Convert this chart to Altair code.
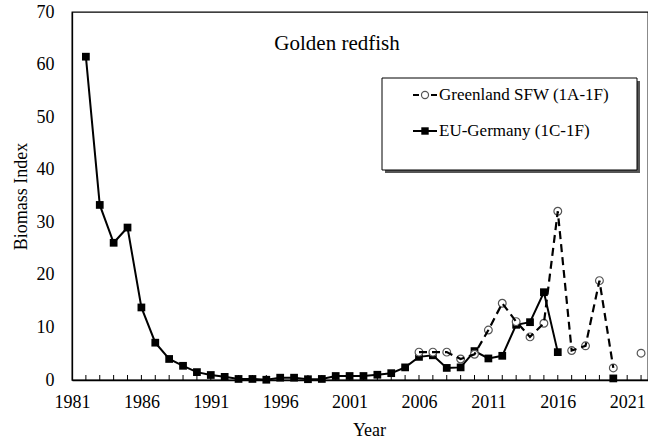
import altair as alt
import pandas as pd

# Survey biomass index series
eu_years = list(range(1982, 2017)) + [2020]
eu_values = [61.5, 33.3, 26.1, 29.0, 13.8, 7.1, 4.0, 2.7, 1.5, 0.95,
             0.6, 0.2, 0.2, 0.05, 0.44, 0.44, 0.15, 0.2, 0.76, 0.76,
             0.76, 1.0, 1.3, 2.4, 4.4, 4.7, 2.3, 2.4, 5.5, 4.1,
             4.6, 10.5, 11.0, 16.7, 5.3, 0.3]

gl_years = list(range(2006, 2021)) + [2022]
gl_values = [5.3, 5.3, 5.3, 4.0, 4.9, 9.5, 14.6, 11.1, 8.2, 10.8,
             32.1, 5.6, 6.5, 18.9, 2.3, 5.1]

x_label_years = list(range(1981, 2022, 5))
y_ticks = list(range(0, 71, 10))
tick_years = list(range(1982, 2023))

FONT = "Liberation Serif"
W, H = 576, 368


def frame(years, values):
    """Rows with a segment id that changes wherever a year is skipped."""
    rows, seg, prev = [], 0, None
    for yr, v in zip(years, values):
        if prev is not None and yr - prev > 1:
            seg += 1
        rows.append({"year": yr, "value": v, "seg": seg})
        prev = yr
    df = pd.DataFrame(rows)
    counts = df.groupby("seg")["year"].transform("count")
    return df, df[counts > 1]


eu_pts, eu_line = frame(eu_years, eu_values)
gl_pts, gl_line = frame(gl_years, gl_values)

xs = alt.Scale(domain=[1981, 2022.5], nice=False, zero=False)
ys = alt.Scale(domain=[0, 70], nice=False)

x_axis = alt.Axis(values=x_label_years, format="d", title="Year",
                  labelFont=FONT, labelFontSize=18, labelColor="black",
                  titleFont=FONT, titleFontSize=18, titleFontWeight="normal",
                  titleColor="black", titleX=297, titleY=50,
                  titleBaseline="middle", labelPadding=13,
                  ticks=False, tickSize=0, grid=False,
                  domainColor="black", domainWidth=1.3, labelFlush=False)
y_axis = alt.Axis(values=y_ticks, title="Biomass Index",
                  labelFont=FONT, labelFontSize=18, labelColor="black",
                  titleFont=FONT, titleFontSize=18, titleFontWeight="normal",
                  titleColor="black", titlePadding=6, labelPadding=18,
                  ticks=False, tickSize=0, grid=False,
                  domainColor="black", domainWidth=1.3)

X = alt.X("year:Q", scale=xs, axis=x_axis)
Y = alt.Y("value:Q", scale=ys, axis=y_axis)

# inward-pointing yearly tick marks on the x axis
ticks = alt.Chart(pd.DataFrame({"year": tick_years})).mark_rule(
    color="black", strokeWidth=1
).encode(x=X, y=alt.value(H), y2=alt.value(H - 5))

eu_l = alt.Chart(eu_line).mark_line(color="black", strokeWidth=2).encode(
    x=X, y=Y, detail="seg:N")
eu_p = alt.Chart(eu_pts).mark_point(
    shape="square", filled=True, color="black", size=60, opacity=1
).encode(x=X, y=Y)
gl_p = alt.Chart(gl_pts).mark_point(
    shape="circle", filled=True, fill="white", stroke="#555555",
    strokeWidth=1.2, size=60, opacity=1
).encode(x=X, y=Y)
gl_l = alt.Chart(gl_line).mark_line(
    color="black", strokeWidth=2.2, strokeDash=[8, 5]
).encode(x=X, y=Y, detail="seg:N")

one = pd.DataFrame({"k": [0]})

title = alt.Chart(one).mark_text(
    text="Golden redfish", font=FONT, fontSize=21, color="black",
    align="center", baseline="middle"
).encode(x=alt.value(265), y=alt.value(32))

# legend box with drop shadow
LX0, LX1, LY0, LY1 = 310, 565, 66, 158
shadow = alt.Chart(one).mark_rect(color="#555555").encode(
    x=alt.value(LX0 + 3), x2=alt.value(LX1 + 3),
    y=alt.value(LY0 + 3), y2=alt.value(LY1 + 3))
box = alt.Chart(one).mark_rect(fill="white", stroke="black", strokeWidth=1).encode(
    x=alt.value(LX0), x2=alt.value(LX1), y=alt.value(LY0), y2=alt.value(LY1))

R1, R2 = 83, 119
leg_l1 = alt.Chart(one).mark_rule(color="black", strokeWidth=2, strokeDash=[6, 3]).encode(
    x=alt.value(341), x2=alt.value(365), y=alt.value(R1))
leg_p1 = alt.Chart(one).mark_point(
    shape="circle", filled=True, fill="white", stroke="#555555",
    strokeWidth=1.2, size=50, opacity=1).encode(x=alt.value(353), y=alt.value(R1))
leg_t1 = alt.Chart(one).mark_text(
    text="Greenland SFW (1A-1F)", font=FONT, fontSize=17, color="black",
    align="left", baseline="middle").encode(x=alt.value(367), y=alt.value(R1))
leg_l2 = alt.Chart(one).mark_rule(color="black", strokeWidth=2).encode(
    x=alt.value(341), x2=alt.value(365), y=alt.value(R2))
leg_p2 = alt.Chart(one).mark_point(
    shape="square", filled=True, color="black", size=55, opacity=1).encode(
    x=alt.value(353), y=alt.value(R2))
leg_t2 = alt.Chart(one).mark_text(
    text="EU-Germany (1C-1F)", font=FONT, fontSize=17, color="black",
    align="left", baseline="middle").encode(x=alt.value(367), y=alt.value(R2))

chart = alt.layer(
    ticks, eu_l, eu_p, gl_p, gl_l, title,
    shadow, box, leg_l1, leg_p1, leg_t1, leg_l2, leg_p2, leg_t2
).properties(
    width=W, height=H,
    autosize=alt.AutoSizeParams(type="none"),
    padding={"left": 72, "top": 12, "right": 0, "bottom": 64},
    background="white",
).configure_view(stroke="black", strokeWidth=1.3)

chart.save("out.html", embed_options={"renderer": "svg", "actions": False})
